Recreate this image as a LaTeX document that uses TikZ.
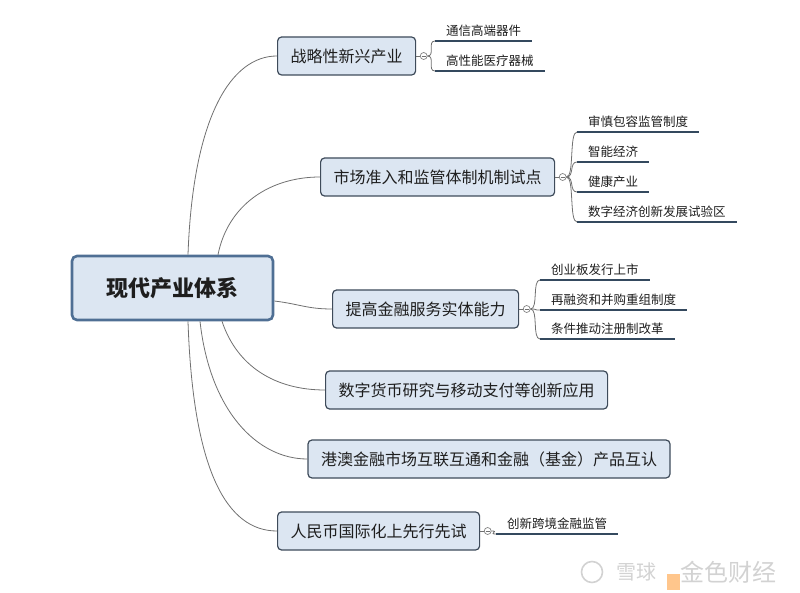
\documentclass[tikz,border=0pt]{standalone}
\usepackage{fontspec}
\setmainfont{Noto Sans CJK SC}
\definecolor{boxfill}{HTML}{DCE6F2}
\definecolor{boxline}{HTML}{3E4B5A}
\definecolor{rootline}{HTML}{4F6F94}
\definecolor{txt}{HTML}{1E1E1E}
\definecolor{linkgray}{HTML}{707070}
\definecolor{underline}{HTML}{34495E}
\tikzset{
  root/.style={draw=rootline,line width=2.6pt,rounded corners=5pt,fill=boxfill,
    minimum width=201pt,minimum height=64pt,text=txt,
    font=\fontsize{22}{26}\selectfont\bfseries},
  branch/.style={draw=boxline,line width=1.2pt,rounded corners=4pt,fill=boxfill,
    inner xsep=13pt,minimum height=38pt,text=txt,anchor=west,
    font=\fontsize{16}{19}\selectfont},
  leaf/.style={anchor=south west,inner xsep=11pt,inner ysep=4pt,text=txt,
    font=\fontsize{12.5}{15}\selectfont},
  fold/.style={circle,draw=linkgray,fill=white,minimum size=7pt,inner sep=0pt,
    line width=0.6pt},
  link/.style={draw=linkgray,line width=0.8pt},
  under/.style={draw=underline,line width=1.8pt},
  wmark/.style={text=gray!35,font=\fontsize{20}{24}\selectfont}
}
\begin{document}
\begin{tikzpicture}[x=1pt,y=-1pt]
      \useasboundingbox (0,0) rectangle (800,593);
      \node [root] (root) at (172.5,288) {现代产业体系};
      \node [branch] (b1) at (277,56) {战略性新兴产业};
      \node [branch] (b2) at (320,177) {市场准入和监管体制机制试点};
      \node [branch] (b3) at (332,309) {提高金融服务实体能力};
      \node [branch] (b4) at (325,390) {数字货币研究与移动支付等创新应用};
      \node [branch,anchor=center] (b5) at (489,459)
            {港澳金融市场互联互通和金融（基金）产品互认};
      \node [branch] (b6) at (277,531) {人民币国际化上先行先试};
      \draw [link] ([xshift=15.5pt]root.north) .. controls +(5,-140) and
            +(-45,0) .. (b1.west);
      \draw [link] ([xshift=45.5pt]root.north) .. controls +(10,-50) and
            +(-50,0) .. (b2.west);
      \draw [link] ([yshift=-13pt]root.east) .. controls +(25,3) and
            +(-25,0) .. (b3.west);
      \draw [link] ([xshift=49.5pt]root.south) .. controls +(15,45) and
            +(-50,0) .. (b4.west);
      \draw [link] ([xshift=27.5pt]root.south) .. controls +(10,90) and
            +(-50,0) .. (b5.west);
      \draw [link] ([xshift=15.5pt]root.south) .. controls +(5,150) and
            +(-50,0) .. (b6.west);
      \node [fold] (f1) at ([xshift=7.5pt]b1.east) {};
      \node [fold] (f2) at ([xshift=7.5pt]b2.east) {};
      \node [fold] (f3) at ([xshift=7.5pt]b3.east) {};
      \node [fold] (f6) at ([xshift=7.5pt]b6.east) {};
      \node [leaf] (l11) at (435,41) {通信高端器件};
      \node [leaf] (l12) at (435,71) {高性能医疗器械};
      \node [leaf] (l21) at (577,132) {审慎包容监管制度};
      \node [leaf] (l22) at (577,162) {智能经济};
      \node [leaf] (l23) at (577,192) {健康产业};
      \node [leaf] (l24) at (577,222) {数字经济创新发展试验区};
      \node [leaf] (l31) at (540,280) {创业板发行上市};
      \node [leaf] (l32) at (540,310) {再融资和并购重组制度};
      \node [leaf] (l33) at (540,339) {条件推动注册制改革};
      \node [leaf] (l61) at (496,534) {创新跨境金融监管};
      \foreach \b/\f in {b1/f1,b2/f2,b3/f3,b6/f6}
        {\draw [link] (\b.east) -- (\f.west);
         \draw [link] ([xshift=1.6pt]\f.west) -- ([xshift=-1.6pt]\f.east);}
      \foreach \f/\l in {f1/l11,f1/l12,f2/l21,f2/l22,f2/l23,f2/l24,
          f3/l31,f3/l32,f3/l33,f6/l61}
        {\draw [link] (\f.east) .. controls +(8,0) and +(-8,0) .. (\l.south west);
         \draw [under] (\l.south west) -- (\l.south east);}
      \draw [gray!35,line width=1.6pt] (592,572) circle (10.5);
      \fill [orange!45] (667,574) rectangle (680,590);
      \node [wmark] (xq) at (636,572) {雪球};
      \node [wmark,font=\fontsize{24}{28}\selectfont] (js) at (728,572) {金色财经};
    \end{tikzpicture}
\end{document}
